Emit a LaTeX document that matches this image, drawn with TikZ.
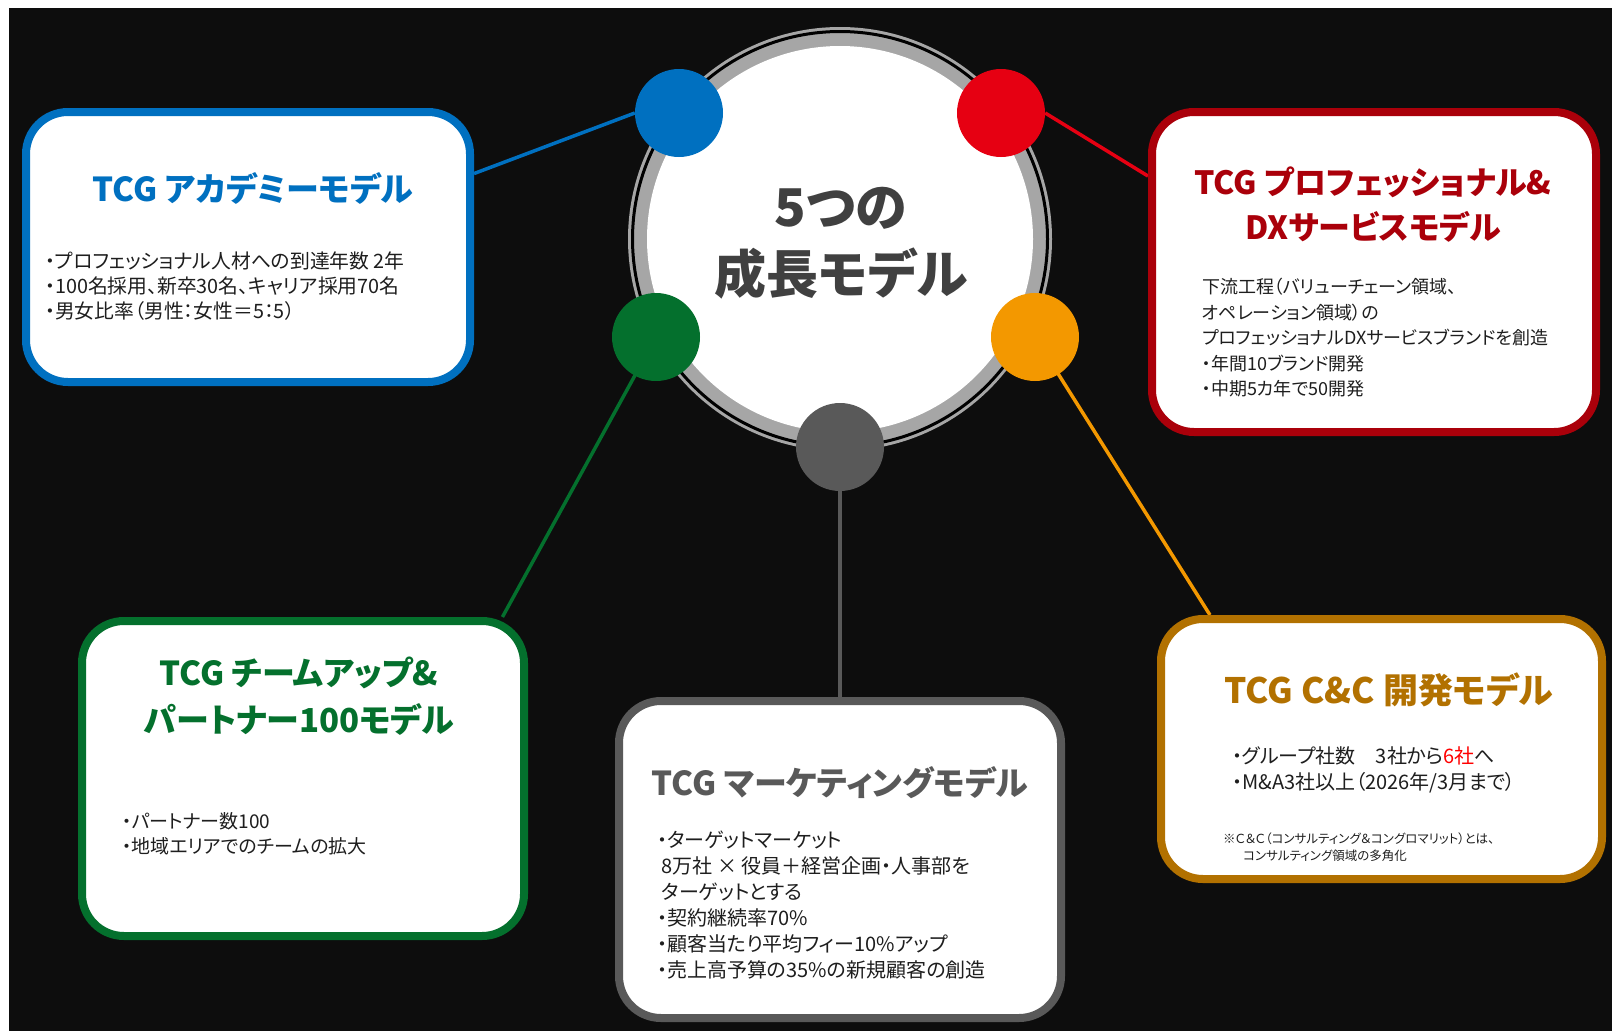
\documentclass[tikz,border=0pt]{standalone}
\usepackage{fontspec}
\newfontfamily\jp[RawFeature=+palt]{Noto Sans CJK JP}
\definecolor{bgblack}{RGB}{13,13,13}
\definecolor{cblue}{RGB}{0,112,192}
\definecolor{credc}{RGB}{230,0,18}
\definecolor{credt}{RGB}{170,0,10}
\definecolor{cgreen}{RGB}{4,112,45}
\definecolor{corangec}{RGB}{243,152,0}
\definecolor{coranget}{RGB}{178,113,0}
\definecolor{cgray}{RGB}{89,89,89}
\definecolor{ringgray}{RGB}{166,166,166}
\definecolor{centertxt}{RGB}{64,64,64}
\definecolor{bodytxt}{RGB}{30,30,30}
\pgfdeclarelayer{backlayer}
\pgfdeclarelayer{linelayer}
\pgfsetlayers{backlayer,linelayer,main}
\begin{document}
\begin{tikzpicture}[x=1pt,y=-1pt,
  modelbox/.style={draw=#1, line width=8pt, rounded corners=42pt, fill=white, inner sep=0pt},
  dot/.style={circle, fill=#1, minimum size=88pt, inner sep=0pt},
  link/.style={draw=#1, line width=3.5pt},
  ttl/.style={text=#1, font=\jp\bfseries\fontsize{33}{46}\selectfont, align=center, inner sep=0pt},
  body/.style={text=bodytxt, font=\jp\fontsize{18}{25.5}\selectfont, align=left, inner sep=0pt, anchor=north west}]
% background
\begin{pgfonlayer}{backlayer}
\fill[white] (0,0) rectangle (1612,1031);
\fill[bgblack] (9,8) rectangle (1612,1031);
\end{pgfonlayer}
\useasboundingbox (0,0) rectangle (1612,1031);

% boxes
\node[modelbox=cblue, minimum width=444pt, minimum height=270pt] (bbox) at (248,247) {};
\node[modelbox=credt, minimum width=444pt, minimum height=320pt] (rbox) at (1374,272) {};
\node[modelbox=cgreen, minimum width=442pt, minimum height=315pt] (gbox) at (303,778.5) {};
\node[modelbox=cgray, minimum width=442pt, minimum height=317pt] (ybox) at (840,859.5) {};
\node[modelbox=coranget, minimum width=441pt, minimum height=260pt] (obox) at (1381.5,749) {};

% main circle
\node[circle, fill=ringgray, minimum size=424pt, inner sep=0pt] (main) at (840,239) {};
\draw[black, line width=3pt] (main.center) circle[radius=207.5pt];
\fill[white] (main.center) circle[radius=193pt];
\node[text=centertxt, font=\jp\bfseries\fontsize{52}{67}\selectfont, align=center, inner sep=0pt] (ctext) at (841,243.5) {5つの\\成長モデル};

% small circles
\node[dot=cblue] (bc) at (679,113) {};
\node[dot=credc] (rc) at (1001,113) {};
\node[dot=cgreen] (gc) at (656,337) {};
\node[dot=corangec] (oc) at (1035,337) {};
\node[dot=cgray] (yc) at (840,447) {};

% connectors (under boxes and circles)
\begin{pgfonlayer}{linelayer}
\draw[link=cblue] (bc.west) -- (bbox.18.4);
\draw[link=credc] (rc.east) -- (rbox.157.8);
\draw[link=cgreen] (gc.center) -- (gbox.39.8);
\draw[link=corangec] (oc.center) -- (obox.142.3);
\draw[link=cgray] (yc.center) -- (ybox.north);
\end{pgfonlayer}

% titles
\node[ttl=cblue] (bt) at (253,188) {TCG アカデミーモデル};
\node[ttl=credt, font=\jp\bfseries\fontsize{32}{45}\selectfont] (rt) at (1373,204.5) {TCG プロフェッショナル\&\\DXサービスモデル};
\node[ttl=cgreen, font=\jp\bfseries\fontsize{33}{47}\selectfont] (gt) at (299,696.5) {TCG チームアップ\&\\パートナー100モデル};
\node[ttl=cgray] (yt) at (840,783) {TCG マーケティングモデル};
\node[ttl=coranget, font=\jp\bfseries\fontsize{35}{46}\selectfont] (ot) at (1389,690) {TCG C\&C 開発モデル};

% bodies
\node[body, font=\jp\fontsize{19.8}{25}\selectfont] (bb) at (45,252) {・プロフェッショナル人材への到達年数 2年\\・100名採用、新卒30名、キャリア採用70名\\・男女比率（男性：女性＝5：5）};
\node[body] (rb) at (1202,278) {下流工程（バリューチェーン領域、\\オペレーション領域）の\\プロフェッショナルDXサービスブランドを創造\\・年間10ブランド開発\\・中期5カ年で50開発};
\node[body, font=\jp\fontsize{19}{25}\selectfont] (gb) at (122,812.5) {・パートナー数100\\・地域エリアでのチームの拡大};
\node[body, font=\jp\fontsize{20}{26}\selectfont] (yb) at (657,831) {・ターゲットマーケット\\\ 8万社 × 役員＋経営企画・人事部を\\\ ターゲットとする\\・契約継続率70\%\\・顧客当たり平均フィー10\%アップ\\・売上高予算の35\%の新規顧客の創造};
\node[body, font=\jp\fontsize{20}{26}\selectfont] (ob) at (1232,746) {・グループ社数　3社から{\color{red}6社}へ\\・M\&A3社以上（2026年/3月まで）};
\node[body, font=\jp\fontsize{12.5}{17}\selectfont] (on) at (1223,833) {※Ｃ＆Ｃ（コンサルティング＆コングロマリット）とは、\\\hspace*{1.6em}コンサルティング領域の多角化};
\end{tikzpicture}
\end{document}
